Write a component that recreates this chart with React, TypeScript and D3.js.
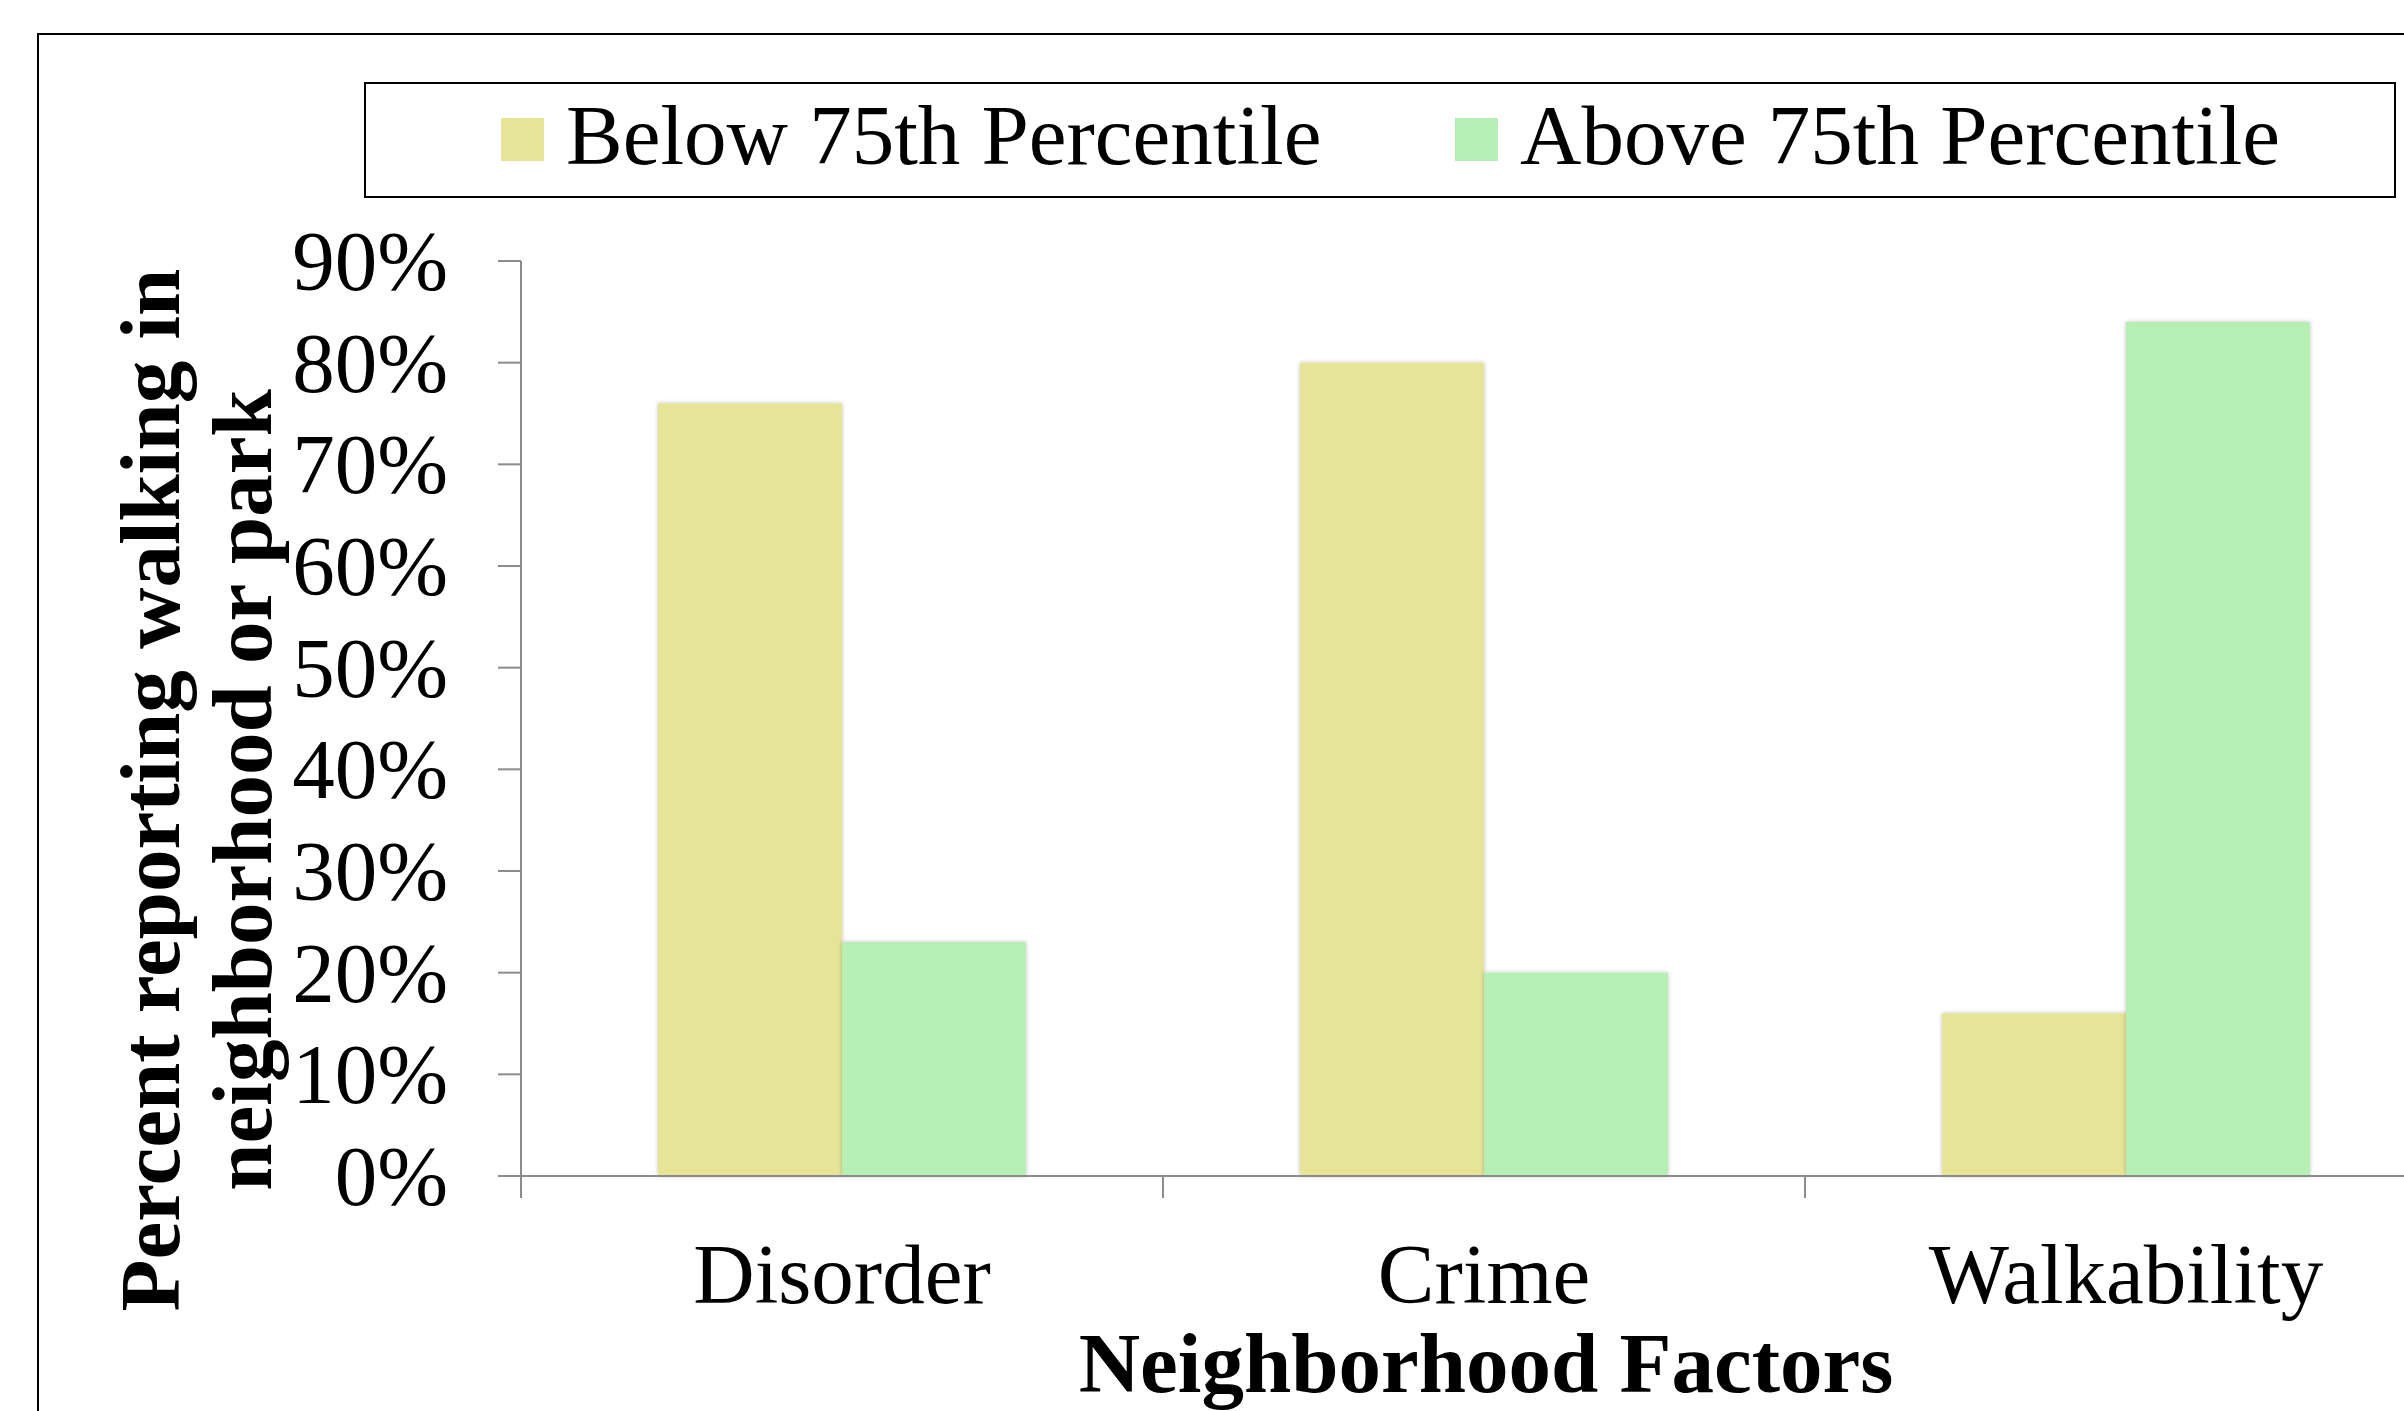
import React from "react";
import * as d3 from "d3";

const categories = ["Disorder", "Crime", "Walkability"];
const seriesNames = ["Below 75th Percentile", "Above 75th Percentile"];
const belowValues = [0.76, 0.8, 0.16];
const aboveValues = [0.23, 0.2, 0.84];
const yTicks = [0, 0.1, 0.2, 0.3, 0.4, 0.5, 0.6, 0.7, 0.8, 0.9];
const colors = ["#E6E497", "#B5EFB4"];

const W = 2404;
const H = 1411;
const FONT = "'Liberation Serif', 'Times New Roman', serif";

export default function App() {
  const plotLeft = 521;
  const plotRight = 2447;
  const y0 = 1176;
  const y90 = 261;
  const y = d3.scaleLinear().domain([0, 0.9]).range([y0, y90]);
  const x = d3.scaleBand().domain(categories).range([plotLeft, plotRight]).paddingInner(0).paddingOuter(0);
  const groupW = x.bandwidth() * 0.573;
  const inner = d3.scaleBand().domain(seriesNames).range([0, groupW]);
  const series = [belowValues, aboveValues];
  const axisColor = "#8c8c8c";

  return (
    <svg width={W} height={H} style={{ position: "absolute", left: 0, top: 0, background: "#fff" }} fontFamily={FONT}>
      <defs>
        <filter id="sh" x="-10%" y="-10%" width="120%" height="120%">
          <feDropShadow dx="0" dy="0" stdDeviation="2" floodColor="#000" floodOpacity="0.25" />
        </filter>
      </defs>
      <rect x={0} y={0} width={W} height={H} fill="#fff" />
      {/* outer border */}
      <rect x={38} y={34} width={W} height={H} fill="none" stroke="#000" strokeWidth={2} />

      {/* legend */}
      <rect x={365} y={83} width={2030} height={114} fill="#fff" stroke="#000" strokeWidth={2} />
      {seriesNames.map((s, i) => {
        const sx = i === 0 ? 501 : 1455;
        return (
          <g key={s}>
            <rect x={sx} y={118} width={43} height={43} fill={colors[i]} />
            <text x={sx + 65} y={164} fontSize={85} fill="#000">{s}</text>
          </g>
        );
      })}

      {/* y axis */}
      <line x1={plotLeft} x2={plotLeft} y1={y(0.9)} y2={y0} stroke={axisColor} strokeWidth={2} />
      {yTicks.map((t) => (
        <g key={t}>
          <line x1={plotLeft - 23} x2={plotLeft} y1={y(t)} y2={y(t)} stroke={axisColor} strokeWidth={2} />
          <text x={448} y={y(t) + 29} fontSize={85} textAnchor="end" fill="#000">
            {d3.format(".0%")(t)}
          </text>
        </g>
      ))}

      {/* bars */}
      {categories.map((c, ci) => {
        const gx = (x(c) as number) + (x.bandwidth() - groupW) / 2;
        return series.map((vals, si) => (
          <rect
            key={c + si}
            x={gx + (inner(seriesNames[si]) as number)}
            y={y(vals[ci])}
            width={inner.bandwidth()}
            height={y0 - y(vals[ci])}
            fill={colors[si]}
            filter="url(#sh)"
          />
        ));
      })}

      {/* x axis */}
      <line x1={plotLeft - 23} x2={W} y1={y0} y2={y0} stroke={axisColor} strokeWidth={2} />
      {categories.map((c) => (
        <line key={c} x1={x(c) as number} x2={x(c) as number} y1={y0} y2={y0 + 22} stroke={axisColor} strokeWidth={2} />
      ))}
      {categories.map((c) => (
        <text key={c} x={(x(c) as number) + x.bandwidth() / 2} y={1303} fontSize={85} textAnchor="middle" fill="#000">
          {c}
        </text>
      ))}

      {/* axis titles */}
      <text x={1486} y={1392} fontSize={85} fontWeight="bold" textAnchor="middle" fill="#000">
        Neighborhood Factors
      </text>
      <text transform="translate(179,790) rotate(-90)" fontSize={85} fontWeight="bold" textAnchor="middle" fill="#000">
        Percent reporting walking in
      </text>
      <text transform="translate(271,790) rotate(-90)" fontSize={85} fontWeight="bold" textAnchor="middle" fill="#000">
        neighborhood or park
      </text>
    </svg>
  );
}
